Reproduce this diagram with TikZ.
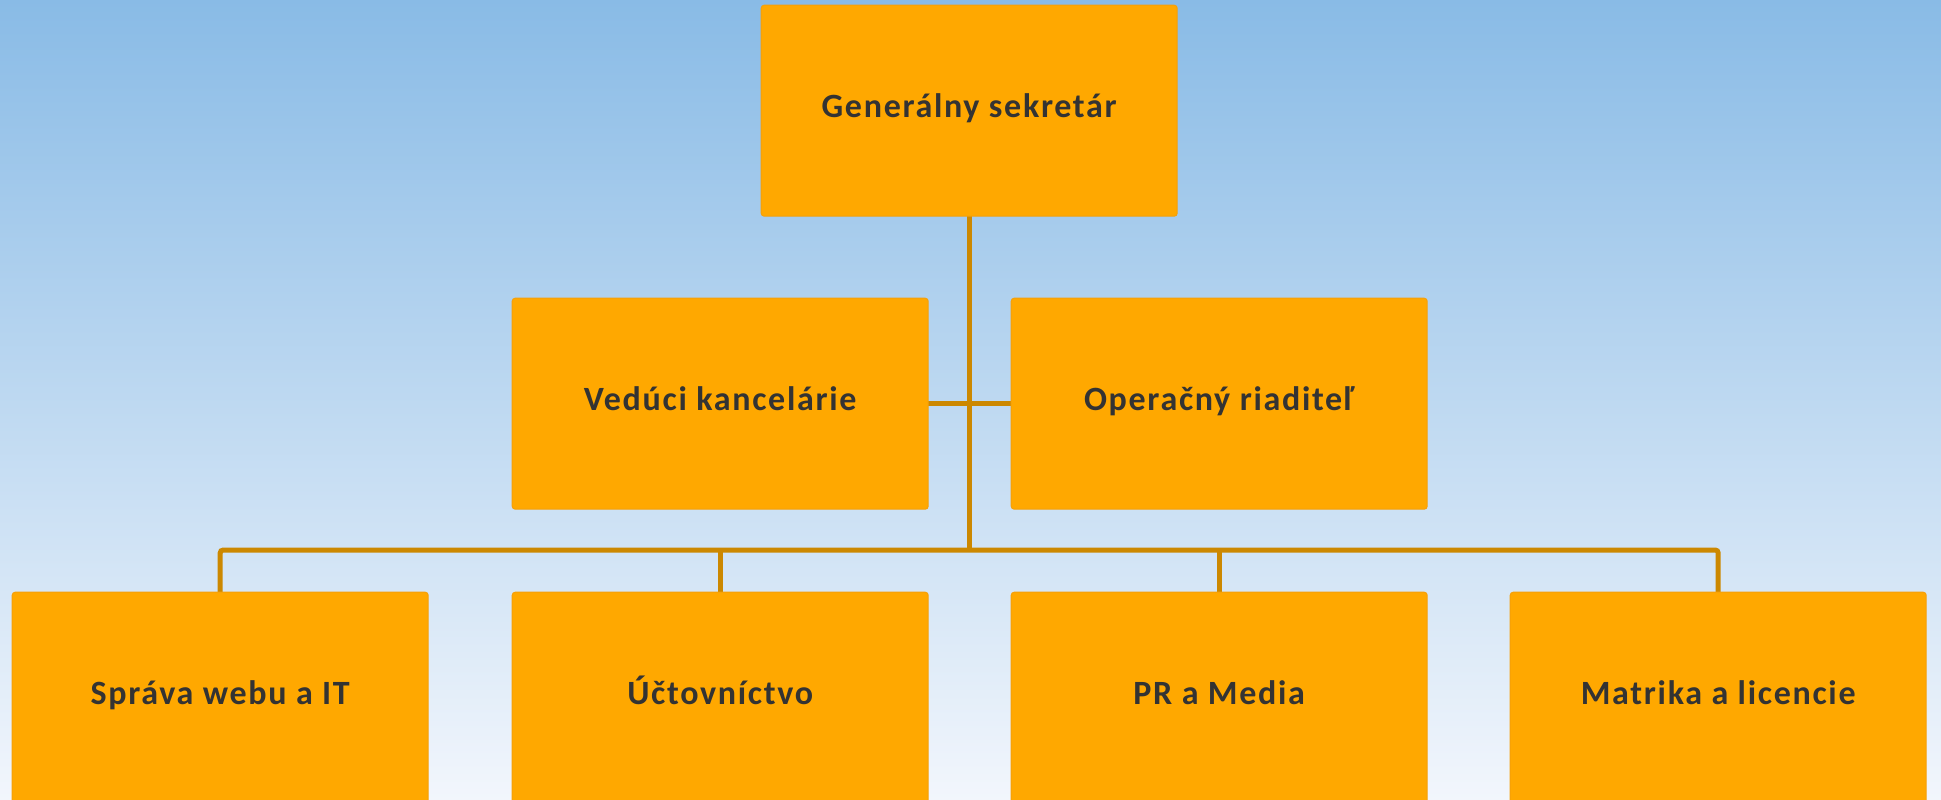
\documentclass[tikz,border=0pt]{standalone}
\usepackage{fontspec}
\setmainfont{Carlito}[LetterSpace=5]
\definecolor{bgtop}{RGB}{137,187,230}
\definecolor{bgbot}{RGB}{242,246,252}
\definecolor{boxfill}{RGB}{255,168,0}
\definecolor{boxline}{RGB}{245,160,10}
\definecolor{conncol}{RGB}{204,136,0}
\definecolor{txt}{RGB}{51,51,51}
\tikzset{
  unit/.style={draw=boxline, fill=boxfill, line width=1pt, rounded corners=3pt,
    minimum width=416pt, minimum height=211pt, inner sep=0pt,
    text height=24pt, text depth=10pt,
    text=txt, font=\fontsize{34}{40}\selectfont\bfseries, anchor=north west},
  conn/.style={draw=conncol, line width=5pt, rounded corners=3pt}
}
\begin{document}
\begin{tikzpicture}[x=1pt,y=-1pt]
\shade[top color=bgtop, bottom color=bgbot] (0,0) rectangle (1941,800);
\useasboundingbox (0,0) rectangle (1941,800);
\coordinate (bus) at (0,550);
% invisible placement nodes for connectors
\foreach \n/\x/\y in {gs/761/5, vk/512/298, or/1011/298, s1/12/592, s2/512/592, s3/1011/592, s4/1510/592}{
  \node[minimum width=416pt, minimum height=211pt, inner sep=0pt, anchor=north west] (\n) at (\x,\y) {};
}
\draw[conn] (gs.south) -- (gs.south |- bus);
\draw[conn] (vk.east) -- (or.west);
\draw[conn] (s1.north) -- (s1.north |- bus) -- (s4.north |- bus) -- (s4.north);
\draw[conn] (s2.north) -- (s2.north |- bus);
\draw[conn] (s3.north) -- (s3.north |- bus);
\foreach \n/\t in {gs/Generálny sekretár, vk/Vedúci kancelárie, or/Operačný riaditeľ, s1/Správa webu a IT, s2/Účtovníctvo, s3/PR a Media, s4/Matrika a licencie}{
  \node[unit, anchor=center] (\n-box) at (\n.center) {\t};
}
\end{tikzpicture}
\end{document}
